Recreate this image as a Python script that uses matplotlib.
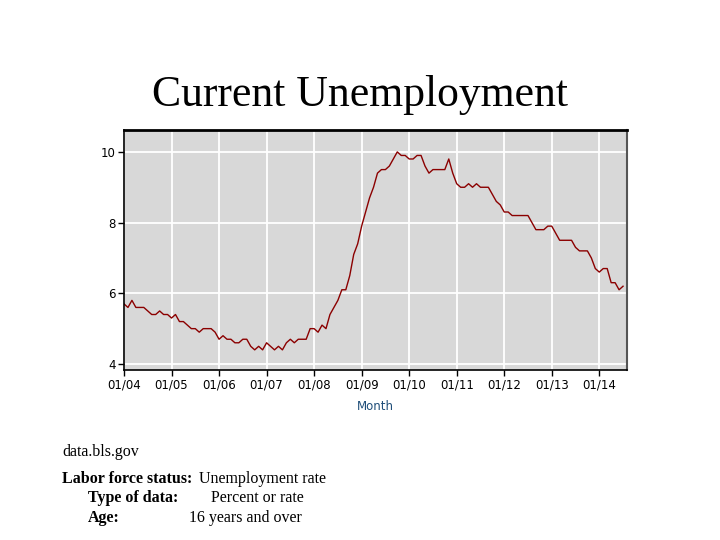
import numpy as np
import matplotlib
matplotlib.use('Agg')
import matplotlib.pyplot as plt

# Monthly unemployment rate, Jan 2004 - Jul 2014 (percent)
rate_2004 = [5.7, 5.6, 5.8, 5.6, 5.6, 5.6, 5.5, 5.4, 5.4, 5.5, 5.4, 5.4]
rate_2005 = [5.3, 5.4, 5.2, 5.2, 5.1, 5.0, 5.0, 4.9, 5.0, 5.0, 5.0, 4.9]
rate_2006 = [4.7, 4.8, 4.7, 4.7, 4.6, 4.6, 4.7, 4.7, 4.5, 4.4, 4.5, 4.4]
rate_2007 = [4.6, 4.5, 4.4, 4.5, 4.4, 4.6, 4.7, 4.6, 4.7, 4.7, 4.7, 5.0]
rate_2008 = [5.0, 4.9, 5.1, 5.0, 5.4, 5.6, 5.8, 6.1, 6.1, 6.5, 7.1, 7.4]
rate_2009 = [7.9, 8.3, 8.7, 9.0, 9.4, 9.5, 9.5, 9.6, 9.8, 10.0, 9.9, 9.9]
rate_2010 = [9.8, 9.8, 9.9, 9.9, 9.6, 9.4, 9.5, 9.5, 9.5, 9.5, 9.8, 9.4]
rate_2011 = [9.1, 9.0, 9.0, 9.1, 9.0, 9.1, 9.0, 9.0, 9.0, 8.8, 8.6, 8.5]
rate_2012 = [8.3, 8.3, 8.2, 8.2, 8.2, 8.2, 8.2, 8.0, 7.8, 7.8, 7.8, 7.9]
rate_2013 = [7.9, 7.7, 7.5, 7.5, 7.5, 7.5, 7.3, 7.2, 7.2, 7.2, 7.0, 6.7]
rate_2014 = [6.6, 6.7, 6.7, 6.3, 6.3, 6.1, 6.2]

rates = (rate_2004 + rate_2005 + rate_2006 + rate_2007 + rate_2008 + rate_2009
         + rate_2010 + rate_2011 + rate_2012 + rate_2013 + rate_2014)
months = np.arange(len(rates))  # 0 = Jan 2004

year_labels = ['01/04', '01/05', '01/06', '01/07', '01/08', '01/09',
               '01/10', '01/11', '01/12', '01/13', '01/14']
year_ticks = [12 * i for i in range(len(year_labels))]
y_ticks = [4, 6, 8, 10]

fig = plt.figure(figsize=(7.2, 5.4), dpi=100)
fig.patch.set_facecolor('white')

ax = fig.add_axes([124 / 720, 1 - 370 / 540, 503 / 720, 240 / 540])
ax.set_facecolor('#d8d8d8')
ax.plot(months, rates, color='#8b0000', lw=1.0)

ax.set_xlim(0, 127)
ax.set_ylim(3.83, 10.62)
ax.set_xticks(year_ticks)
ax.set_xticklabels(year_labels, fontsize=8.5, family='DejaVu Sans')
ax.set_yticks(y_ticks)
ax.set_yticklabels([str(v) for v in y_ticks], fontsize=8.5, family='DejaVu Sans')
ax.grid(True, color='white', lw=1.3)
ax.set_axisbelow(True)
ax.tick_params(axis='both', direction='out', length=4, width=1, colors='black', pad=2)
for side in ['left', 'bottom', 'top']:
    ax.spines[side].set_color('black')
    ax.spines[side].set_linewidth(1.2)
ax.spines['top'].set_linewidth(2)
ax.spines['right'].set_color('#555555')
ax.spines['right'].set_linewidth(1.5)
ax.set_xlabel('Month', fontsize=8.5, color='#1f4e79', labelpad=6)

fig.text(0.5, 1 - 95 / 540, 'Current Unemployment', ha='center', va='center',
         fontsize=31.5, family='Liberation Serif')

serif = 'Liberation Serif'
fs = 11.5
fig.text(62 / 720, 1 - 452 / 540, 'data.bls.gov', fontsize=fs, family=serif, va='center')
fig.text(62 / 720, 1 - 479 / 540, 'Labor force status:', fontsize=fs, family=serif,
         weight='bold', va='center')
fig.text(199 / 720, 1 - 479 / 540, 'Unemployment rate', fontsize=fs, family=serif, va='center')
fig.text(88 / 720, 1 - 498 / 540, 'Type of data:', fontsize=fs, family=serif,
         weight='bold', va='center')
fig.text(211 / 720, 1 - 498 / 540, 'Percent or rate', fontsize=fs, family=serif, va='center')
fig.text(88 / 720, 1 - 518 / 540, 'Age:', fontsize=fs, family=serif,
         weight='bold', va='center')
fig.text(189 / 720, 1 - 518 / 540, '16 years and over', fontsize=fs, family=serif, va='center')

fig.savefig('out.png', dpi=100)
